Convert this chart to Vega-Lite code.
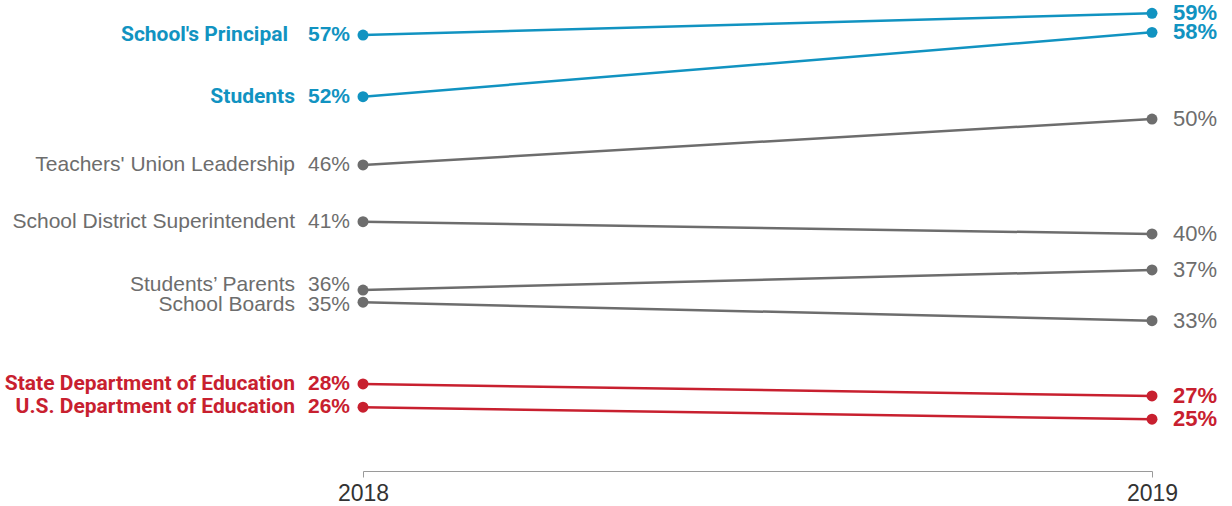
{
  "$schema": "https://vega.github.io/schema/vega-lite/v6.json",
  "width": 789,
  "height": 471,
  "autosize": {"type": "none"},
  "padding": {"left": 363, "top": 0, "right": 80, "bottom": 35},
  "background": "white",
  "config": {"view": {"stroke": null}, "font": "Liberation Sans"},
  "data": {"values": [
    {"group": "School's Principal", "type": "blue", "year": "2018", "value": 57.0, "pct": "57%"},
    {"group": "School's Principal", "type": "blue", "year": "2019", "value": 58.81, "pct": "59%"},
    {"group": "Students", "type": "blue", "year": "2018", "value": 51.86, "pct": "52%"},
    {"group": "Students", "type": "blue", "year": "2019", "value": 57.22, "pct": "58%"},
    {"group": "Teachers' Union Leadership", "type": "gray", "year": "2018", "value": 46.17, "pct": "46%"},
    {"group": "Teachers' Union Leadership", "type": "gray", "year": "2019", "value": 50.0, "pct": "50%"},
    {"group": "School District Superintendent", "type": "gray", "year": "2018", "value": 41.44, "pct": "41%"},
    {"group": "School District Superintendent", "type": "gray", "year": "2019", "value": 40.42, "pct": "40%"},
    {"group": "Students’ Parents", "type": "gray", "year": "2018", "value": 35.75, "pct": "36%"},
    {"group": "Students’ Parents", "type": "gray", "year": "2019", "value": 37.42, "pct": "37%"},
    {"group": "School Boards", "type": "gray", "year": "2018", "value": 34.73, "pct": "35%"},
    {"group": "School Boards", "type": "gray", "year": "2019", "value": 33.19, "pct": "33%"},
    {"group": "State Department of Education", "type": "red", "year": "2018", "value": 27.92, "pct": "28%"},
    {"group": "State Department of Education", "type": "red", "year": "2019", "value": 26.92, "pct": "27%"},
    {"group": "U.S. Department of Education", "type": "red", "year": "2018", "value": 25.98, "pct": "26%"},
    {"group": "U.S. Department of Education", "type": "red", "year": "2019", "value": 24.98, "pct": "25%"}
  ]},
  "encoding": {
    "x": {"field": "year", "type": "ordinal", "scale": {"type": "point", "padding": 0},
      "axis": {"title": null, "labelAngle": 0, "domainColor": "#9a9a9a", "tickColor": "#9a9a9a", "tickSize": 6, "labelFontSize": 23, "labelColor": "#333333", "labelPadding": 5, "labelFont": "Liberation Sans", "grid": false}},
    "y": {"field": "value", "type": "quantitative", "scale": {"domain": [20.667, 59.917], "nice": false, "zero": false}, "axis": null},
    "color": {"field": "type", "type": "nominal", "scale": {"domain": ["blue", "gray", "red"], "range": ["#1193c1", "#6d6d6d", "#c8202f"]}, "legend": null}
  },
  "layer": [
    {"mark": {"type": "line", "strokeWidth": 2.5}, "encoding": {"detail": {"field": "group"}}},
    {"mark": {"type": "point", "filled": true, "size": 120, "opacity": 1}},
    {"transform": [{"filter": "datum.year == '2018' && datum.type != 'gray' && datum.group != 'School\\'s Principal'"}],
     "mark": {"type": "text", "align": "right", "baseline": "middle", "dx": -68, "fontSize": 21, "font": "Roboto", "fontWeight": "bold"},
     "encoding": {"text": {"field": "group"}}},
    {"transform": [{"filter": "datum.year == '2018' && datum.group == 'School\\'s Principal'"}],
     "mark": {"type": "text", "align": "right", "baseline": "middle", "dx": -75, "fontSize": 21, "font": "Roboto", "fontWeight": "bold"},
     "encoding": {"text": {"field": "group"}}},
    {"transform": [{"filter": "datum.year == '2018' && datum.type == 'gray' && datum.group != 'Students’ Parents' && datum.group != 'School Boards'"}],
     "mark": {"type": "text", "align": "right", "baseline": "middle", "dx": -68, "fontSize": 21, "fontWeight": "normal"},
     "encoding": {"text": {"field": "group"}}},
    {"transform": [{"filter": "datum.year == '2018' && datum.group == 'Students’ Parents'"}],
     "mark": {"type": "text", "align": "right", "baseline": "middle", "dx": -68, "dy": -5, "fontSize": 21, "fontWeight": "normal"},
     "encoding": {"text": {"field": "group"}}},
    {"transform": [{"filter": "datum.year == '2018' && datum.group == 'School Boards'"}],
     "mark": {"type": "text", "align": "right", "baseline": "middle", "dx": -68, "dy": 3, "fontSize": 21, "fontWeight": "normal"},
     "encoding": {"text": {"field": "group"}}},
    {"transform": [{"filter": "datum.year == '2018' && datum.type != 'gray'"}],
     "mark": {"type": "text", "align": "right", "baseline": "middle", "dx": -13, "fontSize": 21, "fontWeight": "bold"},
     "encoding": {"text": {"field": "pct"}}},
    {"transform": [{"filter": "datum.year == '2018' && datum.type == 'gray' && datum.group != 'Students’ Parents' && datum.group != 'School Boards'"}],
     "mark": {"type": "text", "align": "right", "baseline": "middle", "dx": -13, "fontSize": 21, "fontWeight": "normal"},
     "encoding": {"text": {"field": "pct"}}},
    {"transform": [{"filter": "datum.year == '2018' && datum.group == 'Students’ Parents'"}],
     "mark": {"type": "text", "align": "right", "baseline": "middle", "dx": -13, "dy": -5, "fontSize": 21, "fontWeight": "normal"},
     "encoding": {"text": {"field": "pct"}}},
    {"transform": [{"filter": "datum.year == '2018' && datum.group == 'School Boards'"}],
     "mark": {"type": "text", "align": "right", "baseline": "middle", "dx": -13, "dy": 3, "fontSize": 21, "fontWeight": "normal"},
     "encoding": {"text": {"field": "pct"}}},
    {"transform": [{"filter": "datum.year == '2019' && datum.type != 'gray'"}],
     "mark": {"type": "text", "align": "left", "baseline": "middle", "dx": 21, "fontSize": 22, "fontWeight": "bold"},
     "encoding": {"text": {"field": "pct"}}},
    {"transform": [{"filter": "datum.year == '2019' && datum.type == 'gray'"}],
     "mark": {"type": "text", "align": "left", "baseline": "middle", "dx": 21, "fontSize": 22, "fontWeight": "normal"},
     "encoding": {"text": {"field": "pct"}}}
  ]
}
